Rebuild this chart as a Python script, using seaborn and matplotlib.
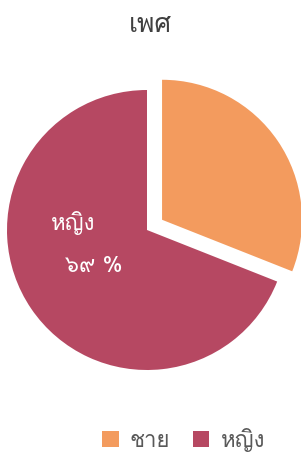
"""Pie chart: respondents by sex (Thai labels)."""

import matplotlib

matplotlib.use("Agg")

import matplotlib.pyplot as plt  # noqa: E402
import seaborn as sns  # noqa: E402
from matplotlib import font_manager  # noqa: E402
from matplotlib.ft2font import FT2Font  # noqa: E402

TITLE = "เพศ"
CATEGORIES = ["ชาย", "หญิง"]
PERCENTS = [31, 69]
COLORS = ["#F39B5E", "#B64862"]

THAI_DIGITS = str.maketrans("0123456789", "๐๑๒๓๔๕๖๗๘๙")


def _thai_font() -> str:
    """Pick an installed family that actually has Thai glyphs."""
    for f in font_manager.fontManager.ttflist:
        try:
            if 0x0E40 in FT2Font(f.fname).get_charmap():
                return f.name
        except Exception:
            continue
    return "DejaVu Sans"


sns.set_theme(style="white")
plt.rcParams["font.family"] = [_thai_font(), "DejaVu Sans"]

fig = plt.figure(figsize=(3.01, 4.55), dpi=100)
ax = fig.add_axes([0, 55 / 455, 1, 340 / 455])

wedges, _ = ax.pie(
    PERCENTS, colors=COLORS, startangle=90, counterclock=False,
    explode=[0.13, 0], wedgeprops=dict(linewidth=0),
)
ax.set_xlim(-147 / 140, 154 / 140)
ax.set_ylim(-170 / 140, 170 / 140)
ax.set_aspect("auto")
ax.axis("off")

# label only the larger slice, as in the original
ax.text(-0.53, 0.05, CATEGORIES[1], color="white", fontsize=16,
        ha="center", va="center")
ax.text(-0.38, -0.26, f"{PERCENTS[1]} %".translate(THAI_DIGITS), color="white",
        fontsize=16, ha="center", va="center")

fig.text(0.5, 0.945, TITLE, ha="center", va="center", fontsize=19,
         color="#404040")

fig.legend(wedges, CATEGORIES, loc="center", bbox_to_anchor=(0.61, 0.033),
           ncol=2, frameon=False, fontsize=16, handlelength=0.75,
           handleheight=0.75, handletextpad=0.5, columnspacing=1.0,
           labelcolor="#595959")

fig.savefig("out.png", dpi=100)
